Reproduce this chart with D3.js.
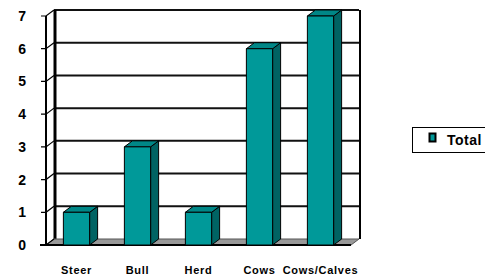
<!DOCTYPE html>
<html>
<head>
<meta charset="utf-8">
<script src="https://cdn.jsdelivr.net/npm/d3@7"></script>
<style>
  html, body { margin: 0; padding: 0; background: #fff; }
  svg { display: block; font-family: Arial, "Liberation Sans", sans-serif; font-weight: bold; }
</style>
</head>
<body>
<div id="chart"></div>
<script>
// data
const categories = ["Steer", "Bull", "Herd", "Cows", "Cows/Calves"]
const totals = [1, 3, 1, 6, 7]
const yTicks = [0, 1, 2, 3, 4, 5, 6, 7]
const seriesName = "Total"

const width = 485, height = 278
// 3d depth offset of the back wall
const dx = 8, dy = -6

const svg = d3.select("#chart").append("svg")
  .attr("width", width)
  .attr("height", height)

const x = d3.scaleBand()
  .domain(categories)
  .range([46, 351])
  .paddingInner(0.57)
  .paddingOuter(0.285)

const y = d3.scaleLinear()
  .domain([0, 7])
  .range([245, 16])

const left = x.range()[0], right = x.range()[1]

// back wall gridlines
svg.append("g")
  .selectAll("line")
  .data(yTicks.filter(d => d > 0))
  .join("line")
  .attr("x1", left + dx).attr("x2", right + dx)
  .attr("y1", d => y(d) + dy).attr("y2", d => y(d) + dy)
  .attr("stroke", "#111")
  .attr("stroke-width", 2)

// back wall edges
svg.append("line")
  .attr("x1", left + dx + 1).attr("x2", left + dx + 1)
  .attr("y1", y(7) + dy).attr("y2", y(0) + dy)
  .attr("stroke", "#000").attr("stroke-width", 3)
svg.append("line")
  .attr("x1", right + dx + 1).attr("x2", right + dx + 1)
  .attr("y1", y(7) + dy).attr("y2", y(0) + dy)
  .attr("stroke", "#000").attr("stroke-width", 2)

// floor
svg.append("path")
  .attr("d", `M${left},${y(0)}L${left + dx},${y(0) + dy}L${right + dx},${y(0) + dy}L${right},${y(0)}Z`)
  .attr("fill", "#999")
  .attr("stroke", "#555")
  .attr("stroke-width", 1)
svg.append("line")
  .attr("x1", left - 6).attr("x2", right)
  .attr("y1", y(0)).attr("y2", y(0))
  .attr("stroke", "#000").attr("stroke-width", 2)

// front value axis
svg.append("line")
  .attr("x1", left).attr("x2", left)
  .attr("y1", y(7)).attr("y2", y(0))
  .attr("stroke", "#000").attr("stroke-width", 2)

const ticks = svg.append("g")
  .selectAll("g")
  .data(yTicks)
  .join("g")
ticks.append("path")
  .attr("d", d => `M${left - 5},${y(d)}L${left},${y(d)}L${left + dx},${y(d) + dy}`)
  .attr("fill", "none")
  .attr("stroke", "#000")
  .attr("stroke-width", 1.2)
ticks.append("text")
  .attr("x", 26)
  .attr("y", d => y(d) + 5)
  .attr("text-anchor", "end")
  .style("font-size", "14px")
  .text(d => d)

// bars
const bw = x.bandwidth()
const bars = svg.append("g")
  .selectAll("g")
  .data(categories.map((c, i) => ({ c, v: totals[i] })))
  .join("g")
  .attr("stroke", "#000")
  .attr("stroke-width", 1)
  .attr("stroke-linejoin", "round")

bars.append("path") // side
  .attr("d", d => {
    const x1 = x(d.c) + bw, yv = y(d.v)
    return `M${x1},${yv}L${x1 + dx},${yv + dy}L${x1 + dx},${y(0) + dy}L${x1},${y(0)}Z`
  })
  .attr("fill", "#006363")
bars.append("path") // top
  .attr("d", d => {
    const x0 = x(d.c), x1 = x0 + bw, yv = y(d.v)
    return `M${x0},${yv}L${x0 + dx},${yv + dy}L${x1 + dx},${yv + dy}L${x1},${yv}Z`
  })
  .attr("fill", "#008787")
bars.append("rect") // front
  .attr("x", d => x(d.c))
  .attr("y", d => y(d.v))
  .attr("width", bw)
  .attr("height", d => y(0) - y(d.v))
  .attr("fill", "#009999")

// category labels
svg.append("g")
  .selectAll("text")
  .data(categories)
  .join("text")
  .attr("x", d => x(d) + bw / 2)
  .attr("y", 274)
  .attr("text-anchor", "middle")
  .style("font-size", "11px")
  .style("letter-spacing", "0.7px")
  .text(d => d)

// legend
const legend = svg.append("g").attr("transform", "translate(412,127)")
legend.append("rect")
  .attr("x", 0.5).attr("y", 0.5)
  .attr("width", 90).attr("height", 25)
  .attr("fill", "#fff")
  .attr("stroke", "#000")
legend.append("rect")
  .attr("x", 17.5).attr("y", 6.5)
  .attr("width", 6).attr("height", 8)
  .attr("fill", "#009999")
  .attr("stroke", "#000")
  .attr("stroke-width", 2)
legend.append("text")
  .attr("x", 35)
  .attr("y", 18)
  .style("font-size", "14px")
  .style("letter-spacing", "0.5px")
  .text(seriesName)
</script>
</body>
</html>
